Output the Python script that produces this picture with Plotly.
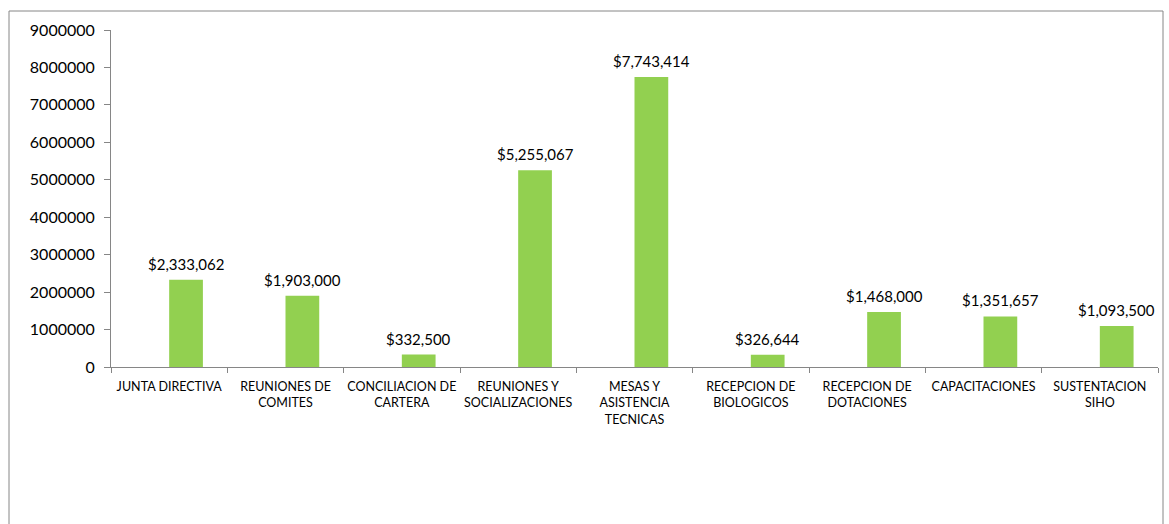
import plotly.graph_objects as go

categories = ["JUNTA DIRECTIVA", "REUNIONES DE<br>COMITES", "CONCILIACION DE<br>CARTERA",
              "REUNIONES Y<br>SOCIALIZACIONES", "MESAS Y<br>ASISTENCIA<br>TECNICAS",
              "RECEPCION DE<br>BIOLOGICOS", "RECEPCION DE<br>DOTACIONES", "CAPACITACIONES",
              "SUSTENTACION<br>SIHO"]
values = [2333062, 1903000, 332500, 5255067, 7743414, 326644, 1468000, 1351657, 1093500]
labels = ["${:,}".format(v) for v in values]
y_ticks = list(range(0, 9000001, 1000000))

W, H = 1169, 524
L, R, T, B = 111, 11, 30, 157
pw, ph = W - L - R, H - T - B
bar_w = 0.29

fig = go.Figure(go.Bar(
    x=list(range(len(categories))), y=values,
    marker=dict(color="#92D050", line=dict(width=0)),
    width=bar_w, offset=0, cliponaxis=False,
))

for i, (v, t) in enumerate(zip(values, labels)):
    fig.add_annotation(x=i + bar_w / 2, y=v, text=t, showarrow=False,
                       xref="x", yref="y", yanchor="bottom", yshift=5,
                       font=dict(family="Lato", size=15, color="#000000"))

fig.update_layout(
    width=W, height=H, margin=dict(l=L, r=R, t=T, b=B),
    paper_bgcolor="white", plot_bgcolor="white", showlegend=False,
    font=dict(family="Lato", color="#000000"),
    xaxis=dict(range=[-0.5, len(categories) - 0.5],
               tickvals=list(range(len(categories))), ticktext=categories,
               showline=True, linecolor="#868686", linewidth=1, ticks="",
               tickfont=dict(size=12.5), showgrid=False, tickangle=0,
               ticklabelstandoff=8, zeroline=False,
               minor=dict(tickvals=[i - 0.5 for i in range(len(categories) + 1)],
                          ticks="outside", ticklen=5, tickcolor="#868686")),
    yaxis=dict(range=[0, 9000000], tickvals=y_ticks, ticktext=[str(v) for v in y_ticks],
               showline=True, linecolor="#868686", linewidth=1, ticks="outside",
               ticklen=6, tickcolor="#868686", showgrid=False, zeroline=False,
               tickfont=dict(size=16), ticklabelstandoff=6),
    shapes=[dict(type="rect", xref="paper", yref="paper",
                 x0=(9 - L) / pw, x1=(1163 - L) / pw,
                 y0=(T + ph - 540) / ph, y1=1 + (T - 11) / ph,
                 line=dict(color="#868686", width=1), layer="below")],
)

fig.write_html("out.html")
